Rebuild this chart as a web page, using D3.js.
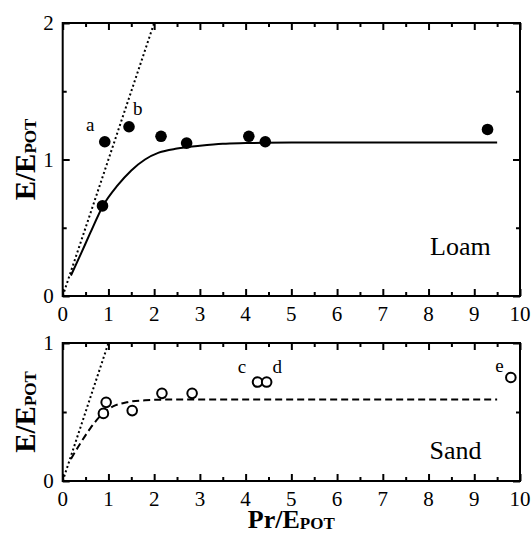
<!DOCTYPE html>
<html>
<head>
<meta charset="utf-8">
<script src="https://cdn.jsdelivr.net/npm/d3@7"></script>
<style>
  body { margin: 0; background: #fff; }
  text { font-family: "Liberation Serif", "Times New Roman", serif; fill: #000; }
</style>
</head>
<body>
<div id="chart"></div>
<script>
// Loam (filled circles)
var loamX = [0.92, 0.87, 1.45, 2.15, 2.71, 4.07, 4.43, 9.29];
var loamY = [1.13, 0.66, 1.24, 1.17, 1.12, 1.17, 1.13, 1.22];
// Loam fitted curve
var loamCurveX = [0.18, 0.4, 0.6, 0.88, 1.2, 1.5, 1.8, 2.1, 2.5, 3.0, 3.5, 4.0, 5.0, 7.0, 9.5];
var loamCurveY = [0.15, 0.31, 0.46, 0.66, 0.81, 0.92, 1.0, 1.05, 1.08, 1.10, 1.115, 1.12, 1.125, 1.125, 1.125];

// Sand (open circles)
var sandX = [0.89, 0.95, 1.52, 2.17, 2.83, 4.26, 4.46, 9.80];
var sandY = [0.49, 0.57, 0.51, 0.635, 0.635, 0.717, 0.717, 0.75];
var sandCurveX = [0.18, 0.4, 0.6, 0.88, 1.1, 1.4, 1.8, 2.3, 3.0, 9.5];
var sandCurveY = [0.16, 0.28, 0.38, 0.49, 0.54, 0.57, 0.585, 0.59, 0.59, 0.59];

// 1:1 line
var oneToOne = [0, 2];

// point letters (data coords, text baseline)
var loamNotes = [["a", 0.60, 1.21], ["b", 1.64, 1.326]];
var sandNotes = [["c", 3.92, 0.783], ["d", 4.69, 0.783], ["e", 9.55, 0.79]];

var xTicks = [0, 1, 2, 3, 4, 5, 6, 7, 8, 9, 10];
var xMinor = [0.5, 1.5, 2.5, 3.5, 4.5, 5.5, 6.5, 7.5, 8.5, 9.5];

var W = 532, H = 536;
var left = 62.7, right = 520;

var svg = d3.select('#chart').append('svg')
  .attr('width', W)
  .attr('height', H);

var x = d3.scaleLinear().domain([0, 10]).range([left, right]);

function panel(cfg) {
  var y = d3.scaleLinear().domain([0, cfg.ymax]).range([cfg.bottom, cfg.top]);
  var g = svg.append('g');
  var clipId = 'clip' + cfg.name;

  svg.append('clipPath').attr('id', clipId)
    .append('rect')
    .attr('x', left).attr('y', cfg.top)
    .attr('width', right - left).attr('height', cfg.bottom - cfg.top);

  var yMajor = d3.range(0, cfg.ymax + 0.01, 1);
  var yMinor = d3.range(0.5, cfg.ymax, 1);

  // ticks, pointing inward on all four sides
  function tickAxis(axisFn, scale, vals, size, tr) {
    g.append('g')
      .attr('transform', tr)
      .call(axisFn(scale).tickValues(vals).tickSize(size).tickFormat(''))
      .call(function(s) { s.select('.domain').remove(); })
      .selectAll('line').attr('stroke', '#000').attr('stroke-width', 2);
  }
  tickAxis(d3.axisTop, x, xTicks, 7, 'translate(0,' + cfg.bottom + ')');
  tickAxis(d3.axisTop, x, xMinor, 4, 'translate(0,' + cfg.bottom + ')');
  tickAxis(d3.axisBottom, x, xTicks, 7, 'translate(0,' + cfg.top + ')');
  tickAxis(d3.axisBottom, x, xMinor, 4, 'translate(0,' + cfg.top + ')');
  tickAxis(d3.axisRight, y, yMajor, 7, 'translate(' + left + ',0)');
  tickAxis(d3.axisRight, y, yMinor, 4, 'translate(' + left + ',0)');
  tickAxis(d3.axisLeft, y, yMajor, 7, 'translate(' + right + ',0)');
  tickAxis(d3.axisLeft, y, yMinor, 4, 'translate(' + right + ',0)');

  // frame
  g.append('rect')
    .attr('x', left).attr('y', cfg.top)
    .attr('width', right - left).attr('height', cfg.bottom - cfg.top)
    .attr('fill', 'none').attr('stroke', '#000').attr('stroke-width', 2);

  // x tick labels
  g.selectAll('.xl').data(xTicks).enter().append('text')
    .attr('x', function(d) { return x(d); })
    .attr('y', cfg.bottom + 25)
    .attr('text-anchor', 'middle')
    .style('font-size', '21px')
    .text(function(d) { return d; });

  // y tick labels
  g.selectAll('.yl').data(yMajor).enter().append('text')
    .attr('x', left - 9)
    .attr('y', function(d) { return y(d) + 7; })
    .attr('text-anchor', 'end')
    .style('font-size', '21px')
    .text(function(d) { return d; });

  // y label
  var yl = g.append('text')
    .attr('transform', 'translate(35,' + y(cfg.ymax / 2) + ') rotate(-90)')
    .attr('text-anchor', 'middle')
    .style('font-weight', 'bold');
  yl.append('tspan').style('font-size', '29px').text('E/E');
  yl.append('tspan').style('font-size', '17px').attr('dy', 1).text('POT');

  // 1:1 dotted line
  g.append('line')
    .attr('clip-path', 'url(#' + clipId + ')')
    .attr('x1', x(oneToOne[0])).attr('y1', y(oneToOne[0]))
    .attr('x2', x(oneToOne[1])).attr('y2', y(oneToOne[1]))
    .attr('stroke', '#000').attr('stroke-width', 2)
    .attr('stroke-dasharray', '2,2.6');

  // fitted curve
  var line = d3.line()
    .x(function(d) { return x(d[0]); })
    .y(function(d) { return y(d[1]); })
    .curve(d3.curveMonotoneX);
  g.append('path')
    .datum(d3.zip(cfg.cx, cfg.cy))
    .attr('d', line)
    .attr('fill', 'none').attr('stroke', '#000').attr('stroke-width', 2)
    .attr('stroke-dasharray', cfg.dash);

  // points
  g.selectAll('.pt').data(d3.zip(cfg.px, cfg.py)).enter().append('circle')
    .attr('cx', function(d) { return x(d[0]); })
    .attr('cy', function(d) { return y(d[1]); })
    .attr('r', cfg.filled ? 5.8 : 4.8)
    .attr('fill', cfg.filled ? '#000' : '#fff')
    .attr('stroke', '#000').attr('stroke-width', cfg.filled ? 0 : 2);

  // letters
  g.selectAll('.note').data(cfg.notes).enter().append('text')
    .attr('x', function(d) { return x(d[1]); })
    .attr('y', function(d) { return y(d[2]); })
    .attr('text-anchor', 'middle')
    .style('font-size', '19px')
    .text(function(d) { return d[0]; });

  // panel name
  g.append('text')
    .attr('x', x(cfg.labelX)).attr('y', y(cfg.labelY))
    .attr('text-anchor', 'end')
    .style('font-size', '26px')
    .text(cfg.name);
}

panel({ name: 'Loam', ymax: 2, top: 23, bottom: 296,
  px: loamX, py: loamY, cx: loamCurveX, cy: loamCurveY,
  filled: true, dash: null, notes: loamNotes, labelX: 9.36, labelY: 0.30 });

panel({ name: 'Sand', ymax: 1, top: 343, bottom: 481,
  px: sandX, py: sandY, cx: sandCurveX, cy: sandCurveY,
  filled: false, dash: '7,4', notes: sandNotes, labelX: 9.16, labelY: 0.16 });

// x axis title
var xt = svg.append('text')
  .attr('x', (left + right) / 2).attr('y', 528)
  .attr('text-anchor', 'middle')
  .style('font-weight', 'bold');
xt.append('tspan').style('font-size', '26px').text('Pr/E');
xt.append('tspan').style('font-size', '17px').attr('dy', 1).text('POT');
</script>
</body>
</html>
